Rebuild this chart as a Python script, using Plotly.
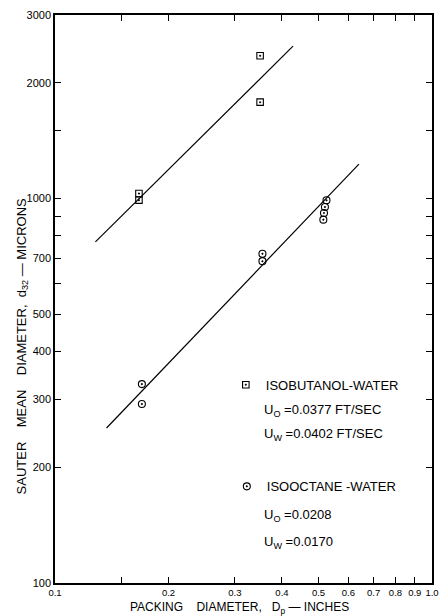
import math
import plotly.graph_objects as go

# ---- data ----
butanol_x = [0.167, 0.167, 0.35, 0.35]
butanol_y = [1030, 990, 1780, 2350]

octane_x = [0.17, 0.17, 0.355, 0.355, 0.515, 0.517, 0.52, 0.525]
octane_y = [329, 292, 718, 687, 881, 917, 950, 989]

butanol_line_x = [0.128, 0.428]
butanol_line_y = [771, 2489]

octane_line_x = [0.137, 0.64]
octane_line_y = [253, 1228]

x_tickvals = [0.1, 0.15, 0.2, 0.3, 0.4, 0.5, 0.6, 0.7, 0.8, 0.9, 1.0]
x_ticktext = ["0.1", "", "0.2", "0.3", "0.4", "0.5", "0.6", "0.7", "0.8", "0.9", "1.0"]

y_tickvals = [100, 200, 300, 400, 500, 600, 700, 800, 900, 1000, 1500, 2000, 3000]
y_ticktext = ["100", "200", "300", "400", "500", "", "700", "", "", "1000", "", "2000", "3000"]

FONT = "Liberation Sans"
NB = "\u00a0"

W, H = 448, 616
ML, MR, MT, MB = 55, 9, 13, 33
PW, PH = W - ML - MR, H - MT - MB


def px(x):
    return (x - ML) / PW


def py(y):
    return (H - MB - y) / PH


fig = go.Figure()
fig.add_trace(go.Scatter(x=butanol_line_x, y=butanol_line_y, mode="lines",
                         line=dict(color="black", width=1.2), showlegend=False,
                         hoverinfo="skip"))
fig.add_trace(go.Scatter(x=octane_line_x, y=octane_line_y, mode="lines",
                         line=dict(color="black", width=1.2), showlegend=False,
                         hoverinfo="skip"))
fig.add_trace(go.Scatter(x=butanol_x, y=butanol_y, mode="markers",
                         name="ISOBUTANOL-WATER",
                         marker=dict(symbol="square-open-dot", size=6.5, color="black",
                                     line=dict(color="black", width=1.1)),
                         legend="legend"))
fig.add_trace(go.Scatter(x=octane_x, y=octane_y, mode="markers",
                         name="ISOOCTANE" + NB + "-WATER",
                         marker=dict(symbol="circle-open-dot", size=7, color="black",
                                     line=dict(color="black", width=1.1)),
                         legend="legend2"))

axis_common = dict(type="log", ticks="inside", ticklen=6, tickwidth=1, tickcolor="black",
                   showline=True, linecolor="black", linewidth=1.5, mirror="ticks",
                   showgrid=False, zeroline=False)

fig.update_layout(
    width=W, height=H,
    margin=dict(l=ML, r=MR, t=MT, b=MB),
    paper_bgcolor="white", plot_bgcolor="white",
    font=dict(family=FONT, color="black"),
    xaxis=dict(range=[-1, 0], tickvals=x_tickvals, ticktext=x_ticktext,
               tickfont=dict(size=9.5, family=FONT, color="black"), **axis_common),
    yaxis=dict(range=[2, math.log10(3000)], tickvals=y_tickvals, ticktext=y_ticktext,
               tickfont=dict(size=11, family=FONT, color="black"), **axis_common),
    legend=dict(x=px(229), y=py(369), xanchor="left", yanchor="top",
                bgcolor="rgba(0,0,0,0)", borderwidth=0,
                font=dict(size=13, family=FONT, color="black")),
    legend2=dict(x=px(230), y=py(471), xanchor="left", yanchor="top",
                 bgcolor="rgba(0,0,0,0)", borderwidth=0,
                 font=dict(size=13, family=FONT, color="black")),
    showlegend=True,
)

ann_font = dict(size=13, family=FONT, color="black")
notes = [
    ("U<sub>O</sub>" + NB + "=0.0377" + NB + "FT/SEC", 266, 410),
    ("U<sub>W</sub>" + NB + "=0.0402" + NB + "FT/SEC", 266, 434),
    ("U<sub>O</sub>" + NB + "=0.0208", 266, 515),
    ("U<sub>W</sub>" + NB + "=0.0170", 266, 542),
]
for text, x, y in notes:
    fig.add_annotation(text=text, xref="paper", yref="paper", x=px(x), y=py(y),
                       xanchor="left", yanchor="middle", showarrow=False, font=ann_font)

fig.add_annotation(
    text="PACKING" + NB * 4 + "DIAMETER," + NB * 3 + "D<sub>p</sub>" + NB + "\u2014" + NB + "INCHES",
    xref="paper", yref="paper", x=px(243), y=py(608), xanchor="center", yanchor="middle",
    showarrow=False, font=dict(size=12, family=FONT, color="black"))

fig.add_annotation(
    text="SAUTER" + NB * 4 + "MEAN" + NB * 4 + "DIAMETER," + NB * 2 + "d<sub>32</sub>" + NB + "\u2014" + NB + "MICRONS",
    xref="paper", yref="paper", x=px(22), y=py(346), xanchor="center", yanchor="middle",
    textangle=-90, showarrow=False, font=dict(size=13, family=FONT, color="black"))

fig.write_html("out.html")
